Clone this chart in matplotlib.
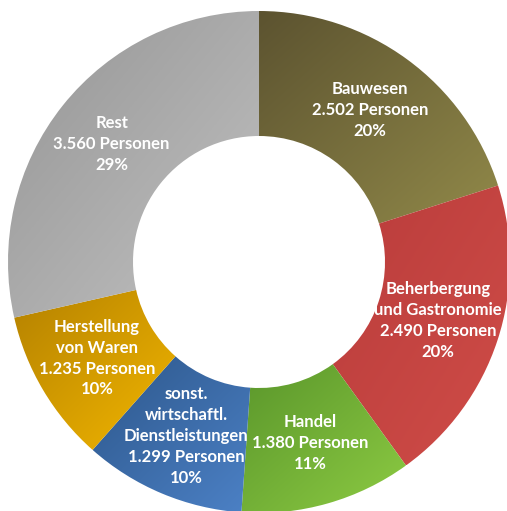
import numpy as np
import matplotlib
matplotlib.use("Agg")
import matplotlib.pyplot as plt
from matplotlib.colors import LinearSegmentedColormap

branchen = ["Bauwesen", "Beherbergung\nund Gastronomie", "Handel",
            "sonst.\nwirtschaftl.\nDienstleistungen", "Herstellung\nvon Waren", "Rest"]
personen = [2502, 2490, 1380, 1299, 1235, 3560]
personen_txt = ["2.502", "2.490", "1.380", "1.299", "1.235", "3.560"]
prozent_txt = ["20%", "20%", "11%", "10%", "10%", "29%"]

# dunkel (oben links) -> hell (unten rechts)
farben = [("#5c5330", "#918949"),
          ("#b93c3b", "#d04d48"),
          ("#5a962b", "#8dcb43"),
          ("#2d578b", "#4c81c6"),
          ("#b58200", "#f2b600"),
          ("#959595", "#c2c2c2")]

W, H = 507, 511
fig = plt.figure(figsize=(W / 100, H / 100), dpi=100)
ax = fig.add_axes([0, 0, 1, 1])

cx, cy = 259, H - 262
R_aussen, R_innen = 251, 126

wedges, _ = ax.pie(personen, center=(cx, cy), radius=R_aussen, startangle=90,
                   counterclock=False, frame=True,
                   wedgeprops=dict(width=R_aussen - R_innen, linewidth=0))

n = 200
ii, jj = np.mgrid[0:n, 0:n]
verlauf = (ii + jj) / (2 * (n - 1))

for w, (c0, c1), name, p, pz in zip(wedges, farben, branchen, personen_txt, prozent_txt):
    w.set_facecolor("none")
    ext = w.get_path().get_extents()
    cmap = LinearSegmentedColormap.from_list("g", [c0, c1])
    im = ax.imshow(verlauf, cmap=cmap, origin="upper", interpolation="bilinear",
                   extent=(ext.x0, ext.x1, ext.y0, ext.y1), zorder=1)
    im.set_clip_path(w)
    ang = np.deg2rad((w.theta1 + w.theta2) / 2)
    r = (R_aussen + R_innen) / 2
    ax.text(cx + r * np.cos(ang), cy + r * np.sin(ang),
            f"{name}\n{p} Personen\n{pz}",
            ha="center", va="center", color="white", fontsize=12,
            fontfamily="Lato", fontweight="bold", linespacing=1.38, zorder=3)

ax.set_xlim(0, W)
ax.set_ylim(0, H)
ax.set_aspect("equal")
ax.axis("off")
fig.savefig("out.png", dpi=100)
